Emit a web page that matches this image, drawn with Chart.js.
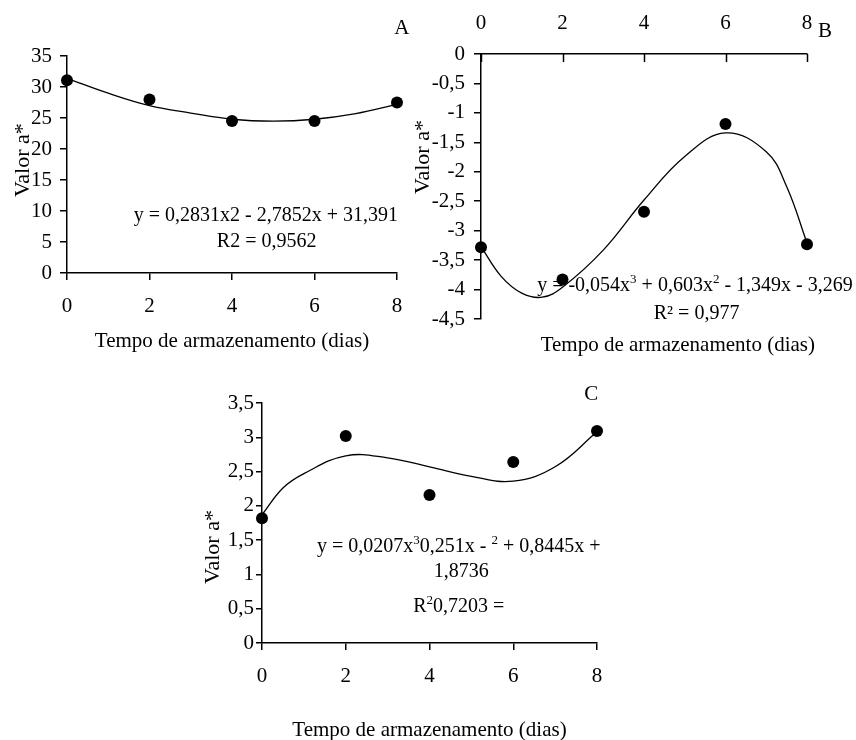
<!DOCTYPE html>
<html lang="pt">
<head>
<meta charset="utf-8">
<title>Valor a*</title>
<script src="https://cdn.jsdelivr.net/npm/chart.js@4.4.1/dist/chart.umd.min.js"></script>
<style>
html,body{margin:0;padding:0;background:#fff;width:856px;height:740px;overflow:hidden;position:relative}
canvas{position:absolute;display:block}
</style>
</head>
<body>
<canvas id="chartA" width="428" height="370" style="left:0;top:0"></canvas>
<canvas id="chartB" width="456" height="370" style="left:400px;top:0"></canvas>
<canvas id="chartC" width="440" height="374" style="left:190px;top:370px"></canvas>
<script>
// ---------------- data ----------------
const days = [0, 2, 4, 6, 8];
const valuesA = [31.1, 28.0, 24.5, 24.5, 27.5];
const valuesB = [-3.28, -3.83, -2.68, -1.19, -3.23];
const valuesC = [1.82, 3.02, 2.16, 2.64, 3.09];

const fitDaysA = [0, 1, 2, 3, 4, 5, 6, 7, 8];
const fitA = [31.4, 29.0, 27.0, 25.8, 24.8, 24.5, 24.8, 25.7, 27.2];
const fitDaysB = [0, 0.5, 1, 1.5, 2, 3, 4, 5, 6, 7, 7.5, 8];
const fitB = [-3.27, -3.78, -4.06, -4.13, -3.96, -3.33, -2.48, -1.74, -1.34, -1.66, -2.25, -3.21];
const fitDaysC = [0, 0.5, 1, 2, 3, 4, 5, 6, 7, 8];
const fitC = [1.87, 2.26, 2.47, 2.73, 2.70, 2.57, 2.43, 2.36, 2.57, 3.08];

const xTicks = [0, 2, 4, 6, 8];
const xTickLabels = ['0', '2', '4', '6', '8'];
const yTicksA = [0, 5, 10, 15, 20, 25, 30, 35];
const yTickLabelsA = ['0', '5', '10', '15', '20', '25', '30', '35'];
const yTicksB = [-4.5, -4, -3.5, -3, -2.5, -2, -1.5, -1, -0.5, 0];
const yTickLabelsB = ['-4,5', '-4', '-3,5', '-3', '-2,5', '-2', '-1,5', '-1', '-0,5', '0'];
const yTicksC = [0, 0.5, 1, 1.5, 2, 2.5, 3, 3.5];
const yTickLabelsC = ['0', '0,5', '1', '1,5', '2', '2,5', '3', '3,5'];

const axisTitle = 'Tempo de armazenamento (dias)';
const yTitle = 'Valor a*';

// ---------------- styling helpers ----------------
const FAMILY = "'Liberation Serif', 'Times New Roman', serif";
const FS = 21;
const font = { family: FAMILY, size: FS };
const FONTS = {
  base: FS + 'px ' + FAMILY,
  eq: '20px ' + FAMILY,
  sup: '13px ' + FAMILY,
  ytitle: '22px ' + FAMILY
};

function pts(xs, ys) { return xs.map((x, i) => ({ x: x, y: ys[i] })); }
function setTicks(values) { return s => { s.ticks = values.map(v => ({ value: v })); }; }
function labeler(values, labels) { return v => labels[values.indexOf(v)]; }

function drawRuns(ctx, runs, x, y, align, baseFont) {
  let w = 0;
  runs.forEach(r => { ctx.font = r.sup ? FONTS.sup : baseFont; r.w = ctx.measureText(r.t).width; w += r.w; });
  let cx = align === 'center' ? x - w / 2 : (align === 'right' ? x - w : x);
  runs.forEach(r => {
    ctx.font = r.sup ? FONTS.sup : baseFont;
    ctx.fillText(r.t, cx, r.sup ? y - 8 : y);
    cx += r.w;
  });
}

const notesPlugin = {
  id: 'notes',
  beforeDatasetsDraw(chart, args, opts) {
    const { ctx, chartArea } = chart;
    const x = chart.scales.x, y = chart.scales.y;
    ctx.save();
    ctx.fillStyle = '#000';
    ctx.strokeStyle = '#000';
    // inward tick marks (chart B)
    if (opts.innerTicks) {
      ctx.lineWidth = 1.5;
      opts.innerTicks.forEach(v => {
        const px = Math.round(x.getPixelForValue(v)) + 0.5;
        ctx.beginPath();
        ctx.moveTo(px, chartArea.top);
        ctx.lineTo(px, chartArea.top + 8);
        ctx.stroke();
      });
    }
    ctx.textBaseline = 'alphabetic';
    (opts.items || []).forEach(it => {
      if (it.rotate) {
        ctx.save();
        ctx.translate(chartArea.left + it.dx, y.getPixelForValue(it.yv));
        ctx.rotate(-Math.PI / 2);
        ctx.font = FONTS.ytitle;
        ctx.textAlign = 'center';
        ctx.textBaseline = 'middle';
        ctx.fillText(it.text, 0, 0);
        ctx.restore();
      } else {
        ctx.textAlign = 'left';
        drawRuns(ctx, it.runs, x.getPixelForValue(it.xv), y.getPixelForValue(it.yv),
                 it.align || 'center', FONTS[it.font || 'eq']);
      }
    });
    ctx.restore();
  }
};

function datasets(fx, fy, dx, dy) {
  return [
    { data: pts(fx, fy), showLine: true, tension: 0.4, borderColor: '#000', borderWidth: 1.3,
      pointRadius: 0, fill: false, clip: false, order: 2 },
    { data: pts(dx, dy), showLine: false, pointRadius: 6, pointBackgroundColor: '#000',
      pointBorderWidth: 0, pointStyle: 'circle', clip: false, order: 1 }
  ];
}

function gridOpts(len, draw) {
  return { display: true, drawOnChartArea: false, drawTicks: draw, tickLength: len,
           color: '#000', tickColor: '#000', lineWidth: 1.5, tickWidth: 1.5 };
}

function baseOptions(padding, notes) {
  return {
    responsive: false, animation: false, devicePixelRatio: 1,
    layout: { padding: padding },
    plugins: { legend: { display: false }, tooltip: { enabled: false }, notes: notes },
    events: []
  };
}

// ---------------- chart A ----------------
const optA = baseOptions({ left: 0, top: 56, right: 31, bottom: 0 }, {
  items: [
    { runs: [{ t: 'y = 0,2831x2 - 2,7852x + 31,391' }], xv: 4.82, yv: 8.39 },
    { runs: [{ t: 'R2 = 0,9562' }], xv: 4.84, yv: 4.19 },
    { runs: [{ t: 'A' }], xv: 8.12, yv: 38.5, font: 'base' },
    { rotate: true, text: yTitle, dx: -44, yv: 18.2 }
  ]
});
optA.scales = {
  x: { type: 'linear', position: 'bottom', min: 0, max: 8,
       afterBuildTicks: setTicks(xTicks),
       ticks: { callback: labeler(xTicks, xTickLabels), font: font, color: '#000', padding: 14, maxRotation: 0, autoSkip: false },
       grid: gridOpts(7, true), border: { display: true, color: '#000', width: 1.5 },
       title: { display: true, text: axisTitle, font: font, color: '#000', padding: { top: 0, bottom: 16 } },
       afterFit: s => { s.height = 97; } },
  y: { type: 'linear', position: 'left', min: 0, max: 35,
       afterBuildTicks: setTicks(yTicksA),
       ticks: { callback: labeler(yTicksA, yTickLabelsA), font: font, color: '#000', padding: 8, autoSkip: false },
       grid: gridOpts(7, true), border: { display: true, color: '#000', width: 1.5 },
       afterFit: s => { s.width = 67; } }
};
new Chart(document.getElementById('chartA'), {
  type: 'scatter',
  data: { datasets: datasets(fitDaysA, fitA, days, valuesA) },
  options: optA,
  plugins: [notesPlugin]
});

// ---------------- chart B ----------------
const optB = baseOptions({ left: 0, top: 0, right: 49, bottom: 51 }, {
  innerTicks: xTicks,
  items: [
    { runs: [{ t: 'y = -0,054x' }, { t: '3', sup: true }, { t: ' + 0,603x' }, { t: '2', sup: true }, { t: ' - 1,349x - 3,269' }], xv: 5.25, yv: -4.02 },
    { runs: [{ t: 'R\u00B2 = 0,977' }], xv: 5.29, yv: -4.50 },
    { runs: [{ t: axisTitle }], xv: 4.83, yv: -5.04, font: 'base' },
    { runs: [{ t: 'B' }], xv: 8.44, yv: 0.29, font: 'base' },
    { rotate: true, text: yTitle, dx: -58, yv: -1.75 }
  ]
});
optB.scales = {
  x: { type: 'linear', position: 'top', min: 0, max: 8,
       afterBuildTicks: setTicks(xTicks),
       ticks: { callback: labeler(xTicks, xTickLabels), font: font, color: '#000', padding: 18, maxRotation: 0, autoSkip: false },
       grid: gridOpts(0, false), border: { display: true, color: '#000', width: 1.5 },
       afterFit: s => { s.height = 54; } },
  y: { type: 'linear', position: 'left', min: -4.5, max: 0,
       afterBuildTicks: setTicks(yTicksB),
       ticks: { callback: labeler(yTicksB, yTickLabelsB), font: font, color: '#000', padding: 9, autoSkip: false },
       grid: gridOpts(7, true), border: { display: true, color: '#000', width: 1.5 },
       afterFit: s => { s.width = 81; } }
};
new Chart(document.getElementById('chartB'), {
  type: 'scatter',
  data: { datasets: datasets(fitDaysB, fitB, days, valuesB) },
  options: optB,
  plugins: [notesPlugin]
});

// ---------------- chart C ----------------
const optC = baseOptions({ left: 0, top: 33, right: 33, bottom: 0 }, {
  items: [
    { runs: [{ t: 'y = 0,0207x' }, { t: '3', sup: true }, { t: '0,251x - ' }, { t: '2', sup: true }, { t: ' + 0,8445x +' }], xv: 4.70, yv: 1.33 },
    { runs: [{ t: '1,8736' }], xv: 4.76, yv: 0.96 },
    { runs: [{ t: 'R' }, { t: '2', sup: true }, { t: '0,7203 =' }], xv: 4.70, yv: 0.45 },
    { runs: [{ t: 'C' }], xv: 7.86, yv: 3.54, font: 'base' },
    { rotate: true, text: yTitle, dx: -49, yv: 1.40 }
  ]
});
optC.scales = {
  x: { type: 'linear', position: 'bottom', min: 0, max: 8,
       afterBuildTicks: setTicks(xTicks),
       ticks: { callback: labeler(xTicks, xTickLabels), font: font, color: '#000', padding: 14, maxRotation: 0, autoSkip: false },
       grid: gridOpts(7, true), border: { display: true, color: '#000', width: 1.5 },
       title: { display: true, text: axisTitle, font: font, color: '#000', padding: { top: 0, bottom: 1 } },
       afterFit: s => { s.height = 101; } },
  y: { type: 'linear', position: 'left', min: 0, max: 3.5,
       afterBuildTicks: setTicks(yTicksC),
       ticks: { callback: labeler(yTicksC, yTickLabelsC), font: font, color: '#000', padding: 2, autoSkip: false },
       grid: gridOpts(6, true), border: { display: true, color: '#000', width: 1.5 },
       afterFit: s => { s.width = 72; } }
};
new Chart(document.getElementById('chartC'), {
  type: 'scatter',
  data: { datasets: datasets(fitDaysC, fitC, days, valuesC) },
  options: optC,
  plugins: [notesPlugin]
});
</script>
</body>
</html>
